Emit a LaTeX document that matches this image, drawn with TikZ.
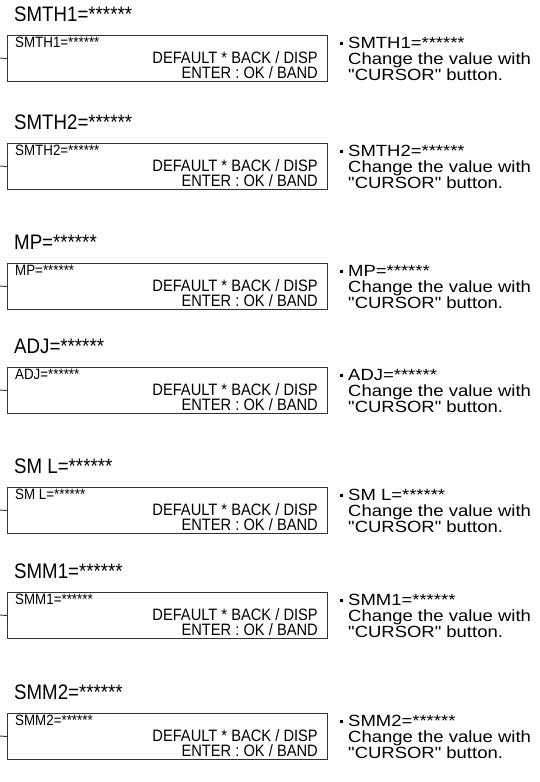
\documentclass[tikz,border=0pt]{standalone}
\usepackage{fontspec}
\setmainfont{Liberation Sans}[Ligatures=TeXOff]
\newfontfamily\narrowfont{Liberation Sans}[FakeStretch=0.89, Ligatures=TeXOff]
\newfontfamily\notefont{Liberation Sans}[FakeStretch=1.14, Ligatures=TeXOff]
\usetikzlibrary{positioning}

\begin{document}
\begin{tikzpicture}[x=1pt, y=-1pt, every node/.style={inner sep=0pt},
	panel/.style={draw=black!80, line width=1.1pt, minimum width=320pt, minimum height=46pt, anchor=north west},
	title/.style={anchor=base west, font=\narrowfont\fontsize{21}{23}\selectfont},
	small/.style={anchor=base west, font=\narrowfont\fontsize{15}{17}\selectfont},
	keys/.style={anchor=base east, font=\narrowfont\fontsize{16.5}{18}\selectfont},
	note/.style={anchor=base west, font=\notefont\fontsize{16.2}{18}\selectfont}]
	\useasboundingbox (0,0) rectangle (540,782);
	\foreach \lbl/\top [count=\i] in {SMTH1/35, SMTH2/143, MP/263, ADJ/367, SM L/487, SMM1/592, SMM2/713} {
		\node[title] (head\i) at (14,\top-13.5) {\lbl=******};
		\node[panel] (box\i) at (7,\top) {};
		\node[small] (line\i) at (15,\top+12.3) {\lbl=******};
		\node[keys] (back\i) at (318,\top+28) {DEFAULT * BACK / DISP};
		\node[keys] (enter\i) at (318,\top+43) {ENTER : OK / BAND};
		\coordinate (stub\i) at (0,\top+23);
		\draw[line width=0.9pt, black!80] (stub\i) -- (box\i.west);
		% right hand explanation
		\node[fill, minimum size=3pt] (dot\i) at (341.5,\top+8) {};
		\node[note] (item\i) at (348,\top+13) {\lbl=******};
		\node[note] (hint\i) at (348,\top+29) {Change the value with};
		\node[note] (cursor\i) at (348,\top+45) {"CURSOR" button.};
	}
\end{tikzpicture}
\end{document}
